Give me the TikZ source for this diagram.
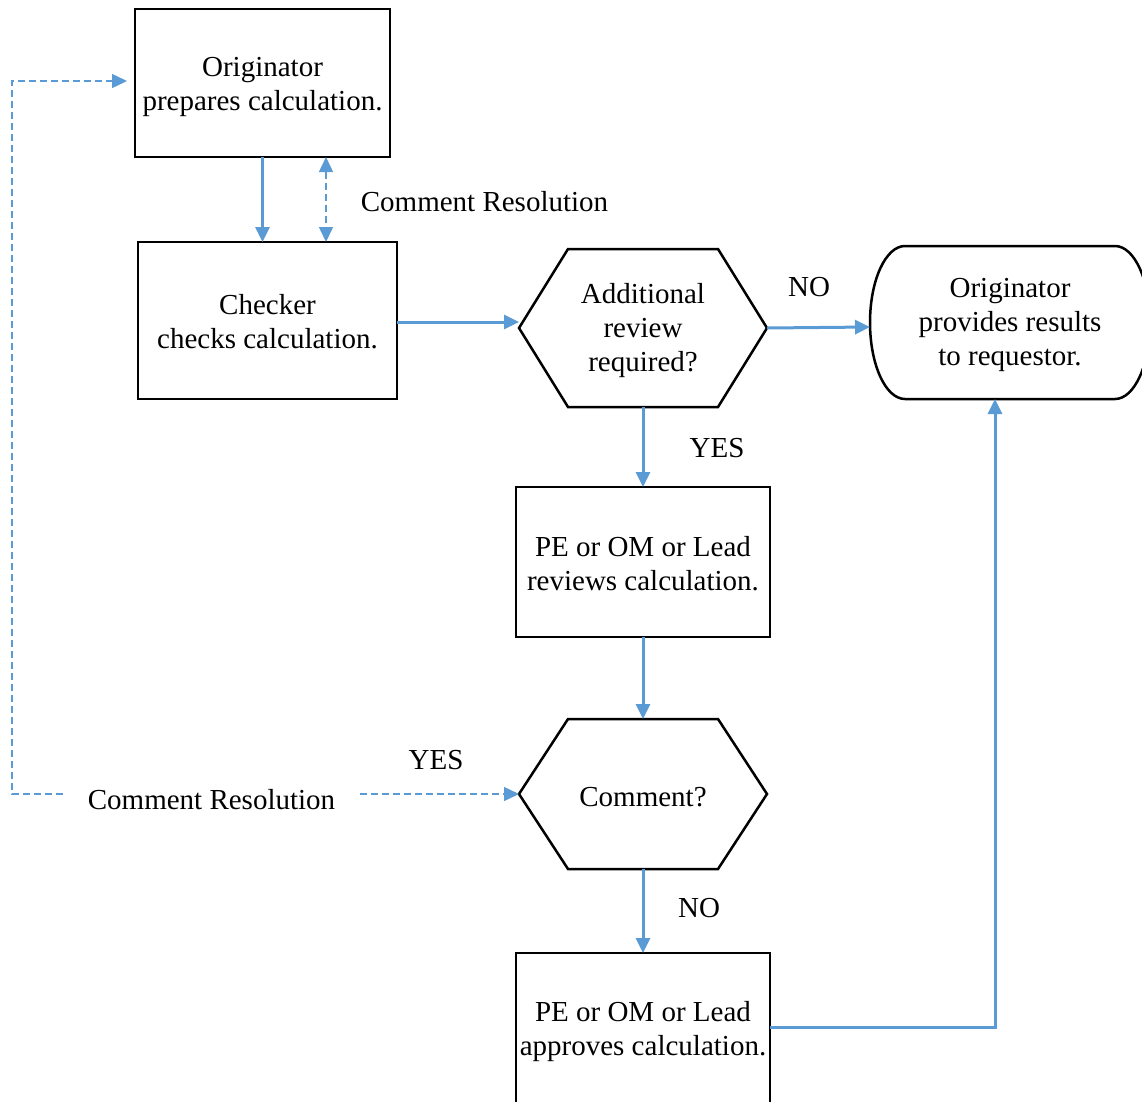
\documentclass[tikz,border=0pt]{standalone}
\usepackage{fontspec}
\setmainfont{Liberation Serif}
\usetikzlibrary{arrows.meta}
\definecolor{flowblue}{HTML}{5B9BD5}
\begin{document}
\begin{tikzpicture}[x=1pt,y=1pt,
  every node/.style={font=\fontsize{29}{34}\selectfont, align=center, inner sep=0pt, outer sep=0pt},
  procbox/.style={draw=black, line width=2.5pt},
  outline/.style={draw=black, line width=2.5pt},
  flow/.style={draw=flowblue, line width=3pt, -{Triangle[length=15pt,width=14pt]}},
  dflow/.style={draw=flowblue, line width=1.5pt, dash pattern=on 7pt off 4pt},
  ]
\useasboundingbox (0,0) rectangle (1142,-1101);
\clip (0,0) rectangle (1142,-1101);

% shapes
\node[procbox, minimum width=255, minimum height=148] (b1) at (262.5,-83) {};
\node[procbox, minimum width=259, minimum height=157] (b2) at (267.5,-320.5) {};
\node[minimum width=248, minimum height=158] (h1) at (643,-328) {};
\node[minimum width=280, minimum height=153] (t) at (1010,-322.5) {};
\node[procbox, minimum width=254, minimum height=150] (b3) at (643,-562) {};
\node[minimum width=248, minimum height=150] (h2) at (643,-794) {};
\node[procbox, minimum width=254, minimum height=154] (b4) at (643,-1030) {};

% texts
\node (b1t) at ([yshift=-4pt]b1.center) {Originator\\prepares calculation.};
\node (b2t) at ([yshift=-1.5pt]b2.center) {Checker\\checks calculation.};
\node (h1t) at ([yshift=-2.5pt]h1.center) {Additional\\review\\required?};
\node (tt) at ([yshift=-2.5pt]t.center) {Originator\\provides results\\to requestor.};
\node (b3t) at ([yshift=-1.5pt]b3.center) {PE or OM or Lead\\reviews calculation.};
\node (h2t) at ([yshift=-3pt]h2.center) {Comment?};
\node (b4t) at ([yshift=-1.5pt]b4.center) {PE or OM or Lead\\approves calculation.};

% hexagons
\draw[outline] (h1.west) -- ([xshift=49pt]h1.north west) -- ([xshift=-49pt]h1.north east) -- (h1.east) -- ([xshift=-49pt]h1.south east) -- ([xshift=49pt]h1.south west) -- cycle;
\draw[outline] (h2.west) -- ([xshift=49pt]h2.north west) -- ([xshift=-49pt]h2.north east) -- (h2.east) -- ([xshift=-49pt]h2.south east) -- ([xshift=49pt]h2.south west) -- cycle;
% terminal
\draw[outline] ([xshift=35pt]t.north west) -- ([xshift=-35pt]t.north east)
  arc[start angle=90, end angle=-90, x radius=35pt, y radius=76.5pt]
  -- ([xshift=35pt]t.south west)
  arc[start angle=270, end angle=90, x radius=35pt, y radius=76.5pt] -- cycle;

% labels
\node (cr1) at (484.5,-202) {Comment Resolution};
\node (cr2) [inner xsep=25pt] at (211.5,-800) {Comment Resolution};
\node (no1) at (809,-287) {NO};
\node (yes1) at (717,-448) {YES};
\node (yes2) at (436,-760) {YES};
\node (no2) at (699,-908) {NO};

% connectors
\draw[flow] (b1.south) -- (b1.south |- b2.north);
\draw[dflow, {Triangle[length=15pt,width=14pt]}-{Triangle[length=15pt,width=14pt]}] ([xshift=63.5pt]b1.south) -- ([xshift=63.5pt]b1.south |- b2.north);
\draw[flow] ([yshift=-1.5pt]b2.east) -- ([yshift=-1.5pt]b2.east -| h1.west);
\draw[flow] (h1.east) -- ([yshift=-4.5pt]t.west);
\draw[flow] (h1.south) -- (b3.north);
\draw[flow] (b3.south) -- (h2.north);
\draw[flow] (h2.south) -- (b4.north);
\draw[flow] ([yshift=3pt]b4.east) -| ([xshift=-15pt]t.south);

\coordinate (loopcorner) at (12,-794);
\draw[dflow, -{Triangle[length=15pt,width=14pt]}] (cr2.east |- h2.west) -- (h2.west);
\draw[dflow, -{Triangle[length=15pt,width=14pt]}] (cr2.west |- h2.west) -- (loopcorner) |- ([xshift=-8pt,yshift=2pt]b1.west);
\end{tikzpicture}
\end{document}
